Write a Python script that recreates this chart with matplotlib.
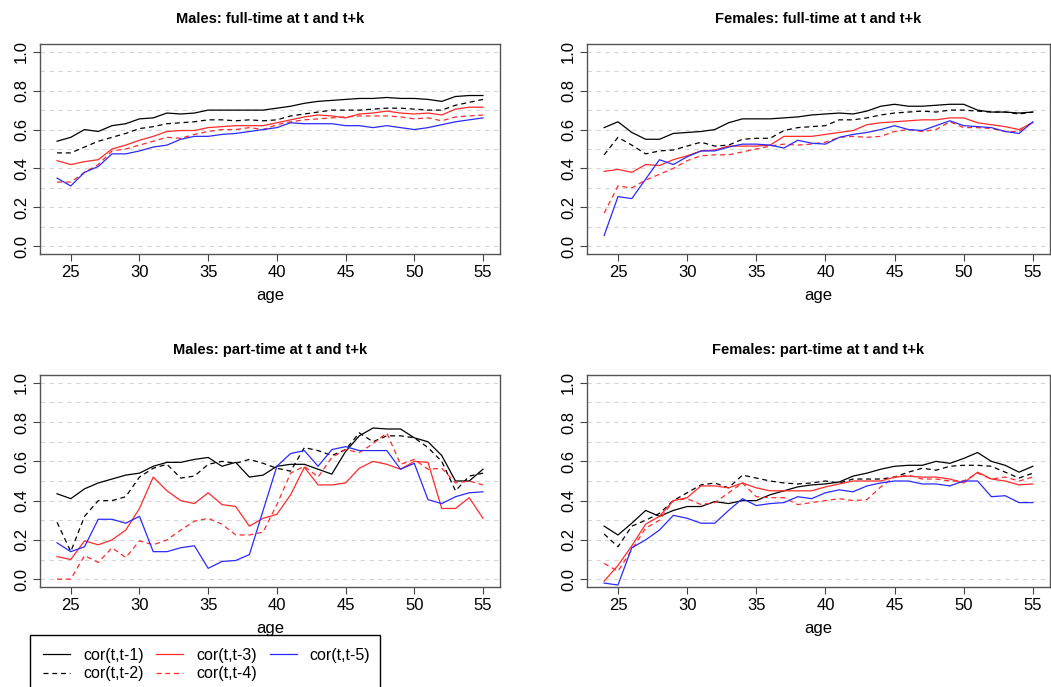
import matplotlib
matplotlib.use("Agg")
import matplotlib.pyplot as plt
from matplotlib.lines import Line2D
from matplotlib.patches import Rectangle

plt.rcParams['font.family'] = ['Liberation Sans', 'DejaVu Sans']

ages = list(range(24, 56))

# males, full-time at t and t+k
mft_1 = [0.54, 0.56, 0.60, 0.59, 0.62, 0.63, 0.655, 0.66, 0.685, 0.68, 0.685, 0.70, 0.70, 0.70, 0.70, 0.70,
         0.71, 0.72, 0.735, 0.745, 0.75, 0.755, 0.76, 0.76, 0.765, 0.76, 0.76, 0.755, 0.745, 0.77, 0.775, 0.775]
mft_2 = [0.48, 0.48, 0.51, 0.54, 0.56, 0.58, 0.605, 0.615, 0.63, 0.635, 0.64, 0.65, 0.65, 0.645, 0.65, 0.645,
         0.65, 0.67, 0.68, 0.69, 0.70, 0.70, 0.70, 0.705, 0.71, 0.71, 0.705, 0.70, 0.70, 0.725, 0.74, 0.755]
mft_3 = [0.44, 0.42, 0.435, 0.445, 0.50, 0.52, 0.545, 0.565, 0.59, 0.595, 0.595, 0.61, 0.615, 0.62, 0.62, 0.62,
         0.635, 0.65, 0.665, 0.675, 0.67, 0.66, 0.68, 0.685, 0.695, 0.685, 0.68, 0.685, 0.675, 0.705, 0.715, 0.715]
mft_4 = [0.33, 0.33, 0.38, 0.42, 0.49, 0.50, 0.52, 0.54, 0.56, 0.555, 0.575, 0.59, 0.60, 0.60, 0.61, 0.60,
         0.625, 0.64, 0.65, 0.655, 0.66, 0.665, 0.67, 0.67, 0.67, 0.665, 0.655, 0.66, 0.645, 0.665, 0.67, 0.675]
mft_5 = [0.35, 0.31, 0.38, 0.41, 0.475, 0.475, 0.49, 0.51, 0.52, 0.55, 0.565, 0.565, 0.575, 0.58, 0.59, 0.60,
         0.61, 0.635, 0.63, 0.63, 0.63, 0.62, 0.62, 0.61, 0.62, 0.61, 0.60, 0.61, 0.625, 0.64, 0.65, 0.66]

# females, full-time
fft_1 = [0.61, 0.64, 0.585, 0.55, 0.55, 0.58, 0.585, 0.59, 0.60, 0.635, 0.655, 0.655, 0.655, 0.66, 0.665, 0.675,
         0.68, 0.685, 0.68, 0.695, 0.72, 0.73, 0.72, 0.72, 0.725, 0.73, 0.73, 0.70, 0.69, 0.69, 0.685, 0.69]
fft_2 = [0.47, 0.56, 0.52, 0.475, 0.49, 0.495, 0.515, 0.535, 0.515, 0.52, 0.55, 0.555, 0.555, 0.595, 0.61, 0.615,
         0.62, 0.65, 0.65, 0.66, 0.675, 0.685, 0.69, 0.695, 0.69, 0.70, 0.70, 0.695, 0.69, 0.69, 0.68, 0.69]
fft_3 = [0.385, 0.395, 0.38, 0.42, 0.415, 0.445, 0.465, 0.49, 0.495, 0.515, 0.515, 0.515, 0.52, 0.565, 0.565, 0.565,
         0.575, 0.585, 0.595, 0.625, 0.635, 0.64, 0.645, 0.65, 0.65, 0.66, 0.66, 0.635, 0.625, 0.615, 0.60, 0.635]
fft_4 = [0.17, 0.31, 0.30, 0.34, 0.37, 0.40, 0.44, 0.465, 0.47, 0.47, 0.485, 0.50, 0.515, 0.525, 0.52, 0.525,
         0.535, 0.56, 0.565, 0.56, 0.565, 0.59, 0.60, 0.59, 0.60, 0.64, 0.61, 0.61, 0.605, 0.59, 0.59, 0.64]
fft_5 = [0.055, 0.255, 0.245, 0.345, 0.445, 0.42, 0.46, 0.49, 0.49, 0.51, 0.525, 0.525, 0.52, 0.505, 0.545, 0.53,
         0.525, 0.56, 0.575, 0.585, 0.60, 0.62, 0.60, 0.595, 0.62, 0.645, 0.62, 0.615, 0.61, 0.59, 0.58, 0.64]

# males, part-time
mpt_1 = [0.435, 0.41, 0.46, 0.49, 0.51, 0.53, 0.54, 0.575, 0.595, 0.595, 0.61, 0.62, 0.575, 0.595, 0.52, 0.53,
         0.575, 0.585, 0.585, 0.56, 0.535, 0.65, 0.73, 0.77, 0.765, 0.765, 0.72, 0.70, 0.63, 0.50, 0.50, 0.56]
mpt_2 = [0.29, 0.14, 0.32, 0.40, 0.40, 0.42, 0.52, 0.565, 0.585, 0.515, 0.525, 0.585, 0.60, 0.59, 0.61, 0.59,
         0.565, 0.55, 0.67, 0.655, 0.63, 0.66, 0.745, 0.70, 0.73, 0.73, 0.72, 0.67, 0.60, 0.45, 0.525, 0.54]
mpt_3 = [0.115, 0.10, 0.195, 0.175, 0.20, 0.25, 0.36, 0.52, 0.45, 0.40, 0.385, 0.44, 0.38, 0.37, 0.27, 0.31,
         0.33, 0.43, 0.57, 0.48, 0.48, 0.49, 0.565, 0.60, 0.585, 0.56, 0.60, 0.595, 0.36, 0.36, 0.415, 0.31]
mpt_4 = [0.0, 0.0, 0.12, 0.085, 0.16, 0.11, 0.195, 0.175, 0.20, 0.25, 0.295, 0.31, 0.28, 0.225, 0.225, 0.24,
         0.38, 0.54, 0.575, 0.52, 0.62, 0.66, 0.645, 0.69, 0.745, 0.585, 0.61, 0.56, 0.565, 0.49, 0.50, 0.48]
mpt_5 = [0.185, 0.14, 0.165, 0.305, 0.305, 0.285, 0.32, 0.14, 0.14, 0.16, 0.17, 0.055, 0.09, 0.095, 0.125, 0.35,
         0.575, 0.64, 0.655, 0.575, 0.66, 0.675, 0.655, 0.655, 0.655, 0.56, 0.59, 0.405, 0.385, 0.42, 0.44, 0.445]

# females, part-time
fpt_1 = [0.27, 0.225, 0.285, 0.35, 0.32, 0.35, 0.37, 0.37, 0.395, 0.385, 0.40, 0.40, 0.43, 0.45, 0.47, 0.48,
         0.485, 0.495, 0.525, 0.54, 0.56, 0.575, 0.58, 0.58, 0.60, 0.59, 0.615, 0.645, 0.60, 0.58, 0.545, 0.575]
fpt_2 = [0.23, 0.165, 0.27, 0.30, 0.335, 0.40, 0.44, 0.48, 0.49, 0.465, 0.53, 0.515, 0.50, 0.49, 0.485, 0.49,
         0.50, 0.49, 0.51, 0.51, 0.51, 0.52, 0.545, 0.565, 0.555, 0.575, 0.58, 0.58, 0.575, 0.545, 0.515, 0.54]
fpt_3 = [-0.01, 0.07, 0.17, 0.28, 0.32, 0.40, 0.415, 0.475, 0.475, 0.465, 0.49, 0.465, 0.45, 0.45, 0.45, 0.45,
         0.47, 0.485, 0.50, 0.50, 0.50, 0.52, 0.525, 0.52, 0.52, 0.51, 0.49, 0.545, 0.51, 0.50, 0.48, 0.485]
fpt_4 = [0.08, 0.04, 0.15, 0.26, 0.30, 0.40, 0.41, 0.38, 0.39, 0.44, 0.49, 0.42, 0.415, 0.415, 0.38, 0.39,
         0.40, 0.41, 0.40, 0.405, 0.47, 0.52, 0.53, 0.51, 0.51, 0.50, 0.50, 0.54, 0.51, 0.52, 0.50, 0.52]
fpt_5 = [-0.02, -0.03, 0.16, 0.20, 0.25, 0.325, 0.31, 0.285, 0.285, 0.35, 0.41, 0.375, 0.385, 0.39, 0.42, 0.41,
         0.44, 0.455, 0.445, 0.475, 0.49, 0.50, 0.50, 0.485, 0.485, 0.475, 0.50, 0.50, 0.42, 0.425, 0.39, 0.39]

labels = ["cor(t,t-1)", "cor(t,t-2)", "cor(t,t-3)", "cor(t,t-4)", "cor(t,t-5)"]
colors = ["black", "black", "#ff2a2a", "#ff2a2a", "#2a2aff"]
styles = ["-", (0, (4, 3)), "-", (0, (4, 3)), "-"]

panels = [
    ("Males: full-time at t and t+k", [mft_1, mft_2, mft_3, mft_4, mft_5]),
    ("Females: full-time at t and t+k", [fft_1, fft_2, fft_3, fft_4, fft_5]),
    ("Males: part-time at t and t+k", [mpt_1, mpt_2, mpt_3, mpt_4, mpt_5]),
    ("Females: part-time at t and t+k", [fpt_1, fpt_2, fpt_3, fpt_4, fpt_5]),
]

W, H = 1051, 687
fig = plt.figure(figsize=(W / 100, H / 100), dpi=100)

# axes boxes in pixels: left, top, right, bottom
boxes = [(40, 44, 500, 254), (587, 44, 1050, 254),
         (40, 375, 500, 587), (587, 375, 1050, 587)]

for (title, series), (l, t, r, b) in zip(panels, boxes):
    ax = fig.add_axes([l / W, 1 - b / H, (r - l) / W, (b - t) / H])
    for y in [i / 10 for i in range(11)]:
        ax.axhline(y, color="#d6d6d6", lw=0.8, ls=(0, (4, 4)), zorder=0)
    for vals, c, s in zip(series, colors, styles):
        ax.plot(ages, vals, color=c, ls=s, lw=0.9)
    ax.set_xlim(22.76, 56.24)
    ax.set_ylim(-0.04, 1.04)
    ax.set_xticks([25, 30, 35, 40, 45, 50, 55])
    ax.set_yticks([0, 0.2, 0.4, 0.6, 0.8, 1.0])
    ax.set_yticklabels(["0.0", "0.2", "0.4", "0.6", "0.8", "1.0"], rotation=90, va="center")
    ax.tick_params(labelsize=12, length=5, width=0.8, color="#444444", pad=3)
    for sp in ax.spines.values():
        sp.set_color("#555555")
        sp.set_linewidth(1.0)
    ax.set_title(title, fontsize=10.5, fontweight="bold", pad=15)
    ax.set_xlabel("age", fontsize=12, labelpad=6)

# legend box in the bottom-left corner
fig.patches.append(Rectangle((30 / W, 1 - 700 / H), 350 / W, 65 / H, transform=fig.transFigure,
                             fill=False, edgecolor="black", lw=1.0))
handles = [Line2D([], [], color=c, ls=s, lw=0.9) for c, s in zip(colors, styles)]
fig.legend(handles, labels, ncol=3, loc="upper left", bbox_to_anchor=(43 / W, 1 - 648 / H),
           frameon=False, fontsize=11.5, handlelength=1.7, columnspacing=0.8, labelspacing=0.2,
           handletextpad=0.8, borderpad=0, borderaxespad=0)

fig.savefig("out.png", dpi=100)
